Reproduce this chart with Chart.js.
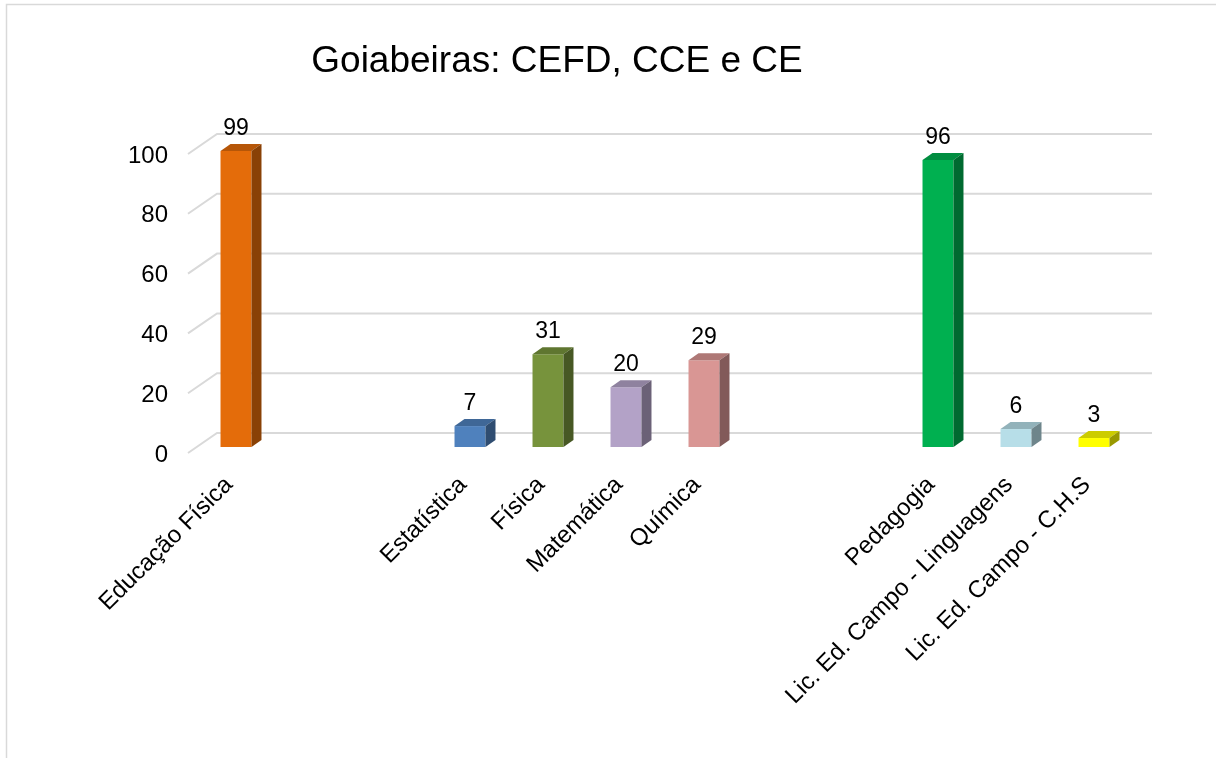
<!DOCTYPE html>
<html lang="pt">
<head>
<meta charset="UTF-8">
<title>Goiabeiras: CEFD, CCE e CE</title>
<script src="https://cdn.jsdelivr.net/npm/chart.js"></script>
<style>
  body { margin: 0; background: #fff; }
  canvas { display: block; }
</style>
</head>
<body>
<canvas id="grafico" width="1216" height="758"></canvas>
<script>
// dados (categorias vazias = espaços entre os centros)
const titulo = 'Goiabeiras: CEFD, CCE e CE';
const cursos = ['Educação Física', '', '', 'Estatística', 'Física', 'Matemática', 'Química', '', '', 'Pedagogia', 'Lic. Ed. Campo - Linguagens', 'Lic. Ed. Campo - C.H.S'];
const alunos = [99, null, null, 7, 31, 20, 29, null, null, 96, 6, 3];
const cores = ['#E46C0A', null, null, '#4F81BD', '#77933C', '#B3A2C7', '#D99694', null, null, '#00B050', '#B7DEE8', '#FFFF00'];
const ticksY = [0, 20, 40, 60, 80, 100];

const fonte = '"Liberation Sans", Arial, sans-serif';
Chart.defaults.font.family = fonte;

// escurece uma cor hex
function escurecer(hex, f) {
    const n = parseInt(hex.slice(1), 16);
    const r = Math.round(((n >> 16) & 255) * f);
    const g = Math.round(((n >> 8) & 255) * f);
    const b = Math.round((n & 255) * f);
    return `rgb(${r},${g},${b})`;
}

// profundidade falsa das barras
const dx = 10, dy = 7;

const efeito3d = {
    id: 'efeito3d',
    beforeDraw(chart) {
        const c = chart.ctx;
        c.save();
        c.strokeStyle = '#d9d9d9';
        c.lineWidth = 1.5;
        c.beginPath();
        c.moveTo(6.5, chart.height);
        c.lineTo(6.5, 4.5);
        c.lineTo(chart.width, 4.5);
        c.stroke();
        c.fillStyle = '#000';
        c.font = '37px ' + fonte;
        c.textAlign = 'center';
        c.textBaseline = 'alphabetic';
        c.fillText(titulo, 557, 72);
        c.restore();
    },
    beforeDatasetsDraw(chart) {
        const c = chart.ctx;
        const a = chart.chartArea;
        const y = chart.scales.y;
        c.save();
        c.strokeStyle = '#d9d9d9';
        c.lineWidth = 2;
        ticksY.forEach(v => {
            const py = y.getPixelForValue(v);
            c.beginPath();
            c.moveTo(a.left - 9, py + 6);
            c.lineTo(a.left + 20, py - 14);
            c.lineTo(a.right + 19, py - 14);
            c.stroke();
        });
        c.restore();
    },
    afterDatasetsDraw(chart) {
        const c = chart.ctx;
        const meta = chart.getDatasetMeta(0);
        c.save();
        meta.data.forEach((bar, i) => {
            const v = chart.data.datasets[0].data[i];
            if (v == null) return;
            const p = bar.getProps(['x', 'y', 'base', 'width'], true);
            const l = p.x - p.width / 2, r = p.x + p.width / 2;
            // topo
            c.fillStyle = escurecer(cores[i], 0.8);
            c.beginPath();
            c.moveTo(l, p.y);
            c.lineTo(l + dx, p.y - dy);
            c.lineTo(r + dx, p.y - dy);
            c.lineTo(r, p.y);
            c.closePath();
            c.fill();
            // lateral
            c.fillStyle = escurecer(cores[i], 0.6);
            c.beginPath();
            c.moveTo(r, p.y);
            c.lineTo(r + dx, p.y - dy);
            c.lineTo(r + dx, p.base - dy);
            c.lineTo(r, p.base);
            c.closePath();
            c.fill();
            // rótulo
            c.fillStyle = '#000';
            c.font = '23px ' + fonte;
            c.textAlign = 'center';
            c.textBaseline = 'alphabetic';
            c.fillText(v, p.x, p.y - 16);
        });
        c.restore();
    }
};

const ctx = document.getElementById('grafico').getContext('2d');
new Chart(ctx, {
    type: 'bar',
    data: {
        labels: cursos,
        datasets: [{
            data: alunos,
            backgroundColor: cores,
            borderWidth: 0,
            barPercentage: 0.397,
            categoryPercentage: 1
        }]
    },
    options: {
        responsive: false,
        animation: false,
        layout: { padding: { top: 148, right: 83, left: 0, bottom: 0 } },
        plugins: {
            legend: { display: false },
            tooltip: { enabled: false }
        },
        scales: {
            x: {
                grid: { display: false, drawTicks: false },
                border: { display: false },
                ticks: {
                    autoSkip: false,
                    maxRotation: 45,
                    minRotation: 45,
                    padding: 24,
                    labelOffset: -7,
                    color: '#000',
                    font: { size: 24 }
                },
                afterFit(s) { s.height = 311; }
            },
            y: {
                min: 0,
                max: 100,
                grid: { display: false, drawTicks: false },
                border: { display: false },
                ticks: {
                    stepSize: 20,
                    padding: 29,
                    labelOffset: 8,
                    color: '#000',
                    font: { size: 24 }
                },
                afterFit(s) { s.width = 197; }
            }
        }
    },
    plugins: [efeito3d]
});
</script>
</body>
</html>
